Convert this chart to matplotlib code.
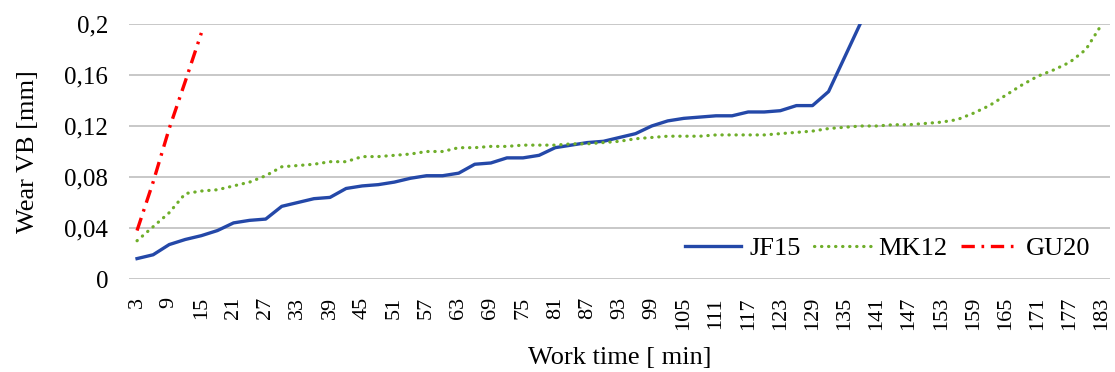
"""Tool wear (VB) against work time for three cutting tools."""

import matplotlib
matplotlib.use("Agg")
import matplotlib.pyplot as plt

# work time in minutes, one category every 3 min
work_time = list(range(3, 184, 3))

# wear VB [mm]
jf15 = [0.016, 0.019, 0.027, 0.031, 0.034, 0.038, 0.044, 0.046, 0.047, 0.057,
        0.060, 0.063, 0.064, 0.071, 0.073, 0.074, 0.076, 0.079, 0.081, 0.081,
        0.083, 0.090, 0.091, 0.095, 0.095, 0.097, 0.103, 0.105, 0.107, 0.108,
        0.111, 0.114, 0.120, 0.124, 0.126, 0.127, 0.128, 0.128, 0.131, 0.131,
        0.132, 0.136, 0.136, 0.147, 0.174, 0.201]
mk12 = [0.030, 0.041, 0.052, 0.067, 0.069, 0.070, 0.073, 0.076, 0.081, 0.088,
        0.089, 0.090, 0.092, 0.092, 0.096, 0.096, 0.097, 0.098, 0.100, 0.100,
        0.103, 0.103, 0.104, 0.104, 0.105, 0.105, 0.105, 0.106, 0.106, 0.107,
        0.108, 0.110, 0.111, 0.112, 0.112, 0.112, 0.113, 0.113, 0.113, 0.113,
        0.114, 0.115, 0.116, 0.118, 0.119, 0.120, 0.120, 0.121, 0.121, 0.122,
        0.123, 0.125, 0.130, 0.136, 0.144, 0.152, 0.159, 0.164, 0.170, 0.180,
        0.200]
gu20 = [0.038, 0.076, 0.118, 0.155, 0.193]

y_ticks = [0, 0.04, 0.08, 0.12, 0.16, 0.2]
y_tick_labels = ["0", "0,04", "0,08", "0,12", "0,16", "0,2"]

plt.rcParams["font.family"] = ["Liberation Serif", "DejaVu Serif"]

fig = plt.figure(figsize=(11.15, 3.72), dpi=100)
ax = fig.add_axes([129 / 1115, 1 - 279 / 372, (1110 - 129) / 1115, (279 - 24) / 372])

pos = list(range(len(work_time)))

ax.plot(pos[:len(jf15)], jf15, color="#2448a8", lw=2.4,
        solid_joinstyle="round", label="JF15")
ax.plot(pos, mk12, color="#6fae2a", lw=2.3, dashes=(0.1, 2.1),
        dash_capstyle="round", label="MK12")
ax.plot(pos[:len(gu20)], gu20, color="#ff0000", lw=2.4,
        dashes=(4, 2, 0.8, 2), label="GU20")

ax.set_xlim(-0.5, len(work_time) - 0.5)
ax.set_ylim(0, 0.2)

ax.set_yticks(y_ticks)
ax.set_yticklabels(y_tick_labels)
ax.set_xticks(pos[::2])
ax.set_xticklabels([str(t) for t in work_time[::2]], rotation=90, va="top")

ax.grid(axis="y", color="#c8c8c8", lw=1.4)
ax.set_axisbelow(True)
for side in ["top", "right", "left", "bottom"]:
    ax.spines[side].set_visible(False)
ax.tick_params(axis="both", length=0)
ax.tick_params(axis="y", pad=15, labelsize=18)
ax.tick_params(axis="x", pad=13, labelsize=16)

ax.set_ylabel("Wear VB [mm]", fontsize=19, labelpad=18)
ax.set_xlabel("Work time [ min]", fontsize=19, labelpad=12)

ax.legend(loc="center right", ncol=3, frameon=True, framealpha=1,
          edgecolor="none", fontsize=19, handlelength=2.15,
          columnspacing=0.5, handletextpad=0.3, borderpad=0,
          bbox_to_anchor=((1090 - 129) / 981, 31 / 255), borderaxespad=0)

fig.savefig("out.png", dpi=100)
